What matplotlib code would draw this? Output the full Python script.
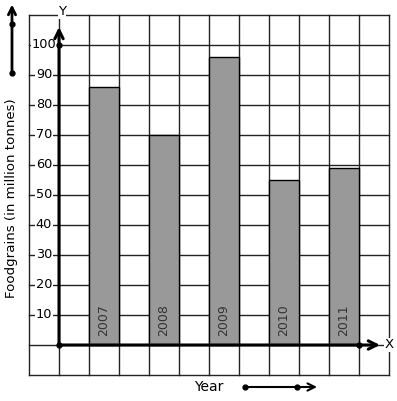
import matplotlib
matplotlib.use("Agg")
import matplotlib.pyplot as plt

years = ["2007", "2008", "2009", "2010", "2011"]
values = [86, 70, 96, 55, 59]
bar_pos = [1.5, 3.5, 5.5, 7.5, 9.5]
ytick_vals = [10, 20, 30, 40, 50, 60, 70, 80, 90, 100]

fig = plt.figure(figsize=(3.97, 4.01), dpi=100)
ax = fig.add_axes([0, 0, 1, 1])
ax.set_xlim(-59 / 30, (397 - 59) / 30)
ax.set_ylim((345 - 401) / 3, 345 / 3)
ax.axis("off")

# grid
for gx in range(-1, 12):
    ax.plot([gx, gx], [-10, 110], color="#222222", lw=1, zorder=1)
for gy in range(-10, 111, 10):
    ax.plot([-1, 11], [gy, gy], color="#222222", lw=1, zorder=1)

# bars
ax.bar(bar_pos, values, width=1, color="#999999", edgecolor="black", lw=1, zorder=2)
for x, y in zip(bar_pos, years):
    ax.text(x, 8.3, y, rotation=90, ha="center", va="center", fontsize=9,
            color="#333333", zorder=3)

# y tick labels
for v in ytick_vals:
    ax.text(-0.5, v, str(v), ha="center", va="center", fontsize=9.3, color="black",
            bbox=dict(facecolor="white", edgecolor="none", pad=0.3), zorder=4)

# axes arrows
ax.annotate("", xy=(0, 106), xytext=(0, 0),
            arrowprops=dict(arrowstyle="->", lw=2.2, color="black",
                            mutation_scale=15, shrinkA=0, shrinkB=0), zorder=5)
ax.annotate("", xy=(10.7, 0), xytext=(0, 0),
            arrowprops=dict(arrowstyle="->", lw=2.2, color="black",
                            mutation_scale=15, shrinkA=0, shrinkB=0), zorder=5)
ax.plot([0, 0, 10], [0, 100, 0], "o", color="black", ms=3.5, zorder=6)
ax.text(0.1, 111, "Y", ha="center", va="center", fontsize=9.5,
        bbox=dict(facecolor="white", edgecolor="none", pad=0.3), zorder=6)
ax.text(11, 0, "X", ha="center", va="center", fontsize=9.5,
        bbox=dict(facecolor="white", edgecolor="none", pad=0.3), zorder=6)

# left decoration arrow
ax.annotate("", xy=(-1.567, 113.5), xytext=(-1.567, 90.67),
            arrowprops=dict(arrowstyle="->", lw=2, color="black",
                            mutation_scale=13, shrinkA=0, shrinkB=0))
ax.plot([-1.567, -1.567], [107, 90.67], "o", color="black", ms=3.5)
ax.text(-1.567, 49, "Foodgrains (in million tonnes)", rotation=90,
        ha="center", va="center", fontsize=9.6)

# bottom decoration
ax.text(5.0, -14, "Year", ha="center", va="center", fontsize=10)
ax.annotate("", xy=(8.6, -14), xytext=(6.2, -14),
            arrowprops=dict(arrowstyle="->", lw=1.5, color="black",
                            mutation_scale=13, shrinkA=0, shrinkB=0))
ax.plot([6.2, 7.93], [-14, -14], "o", color="black", ms=3.5)

fig.savefig("out.png", dpi=100)
